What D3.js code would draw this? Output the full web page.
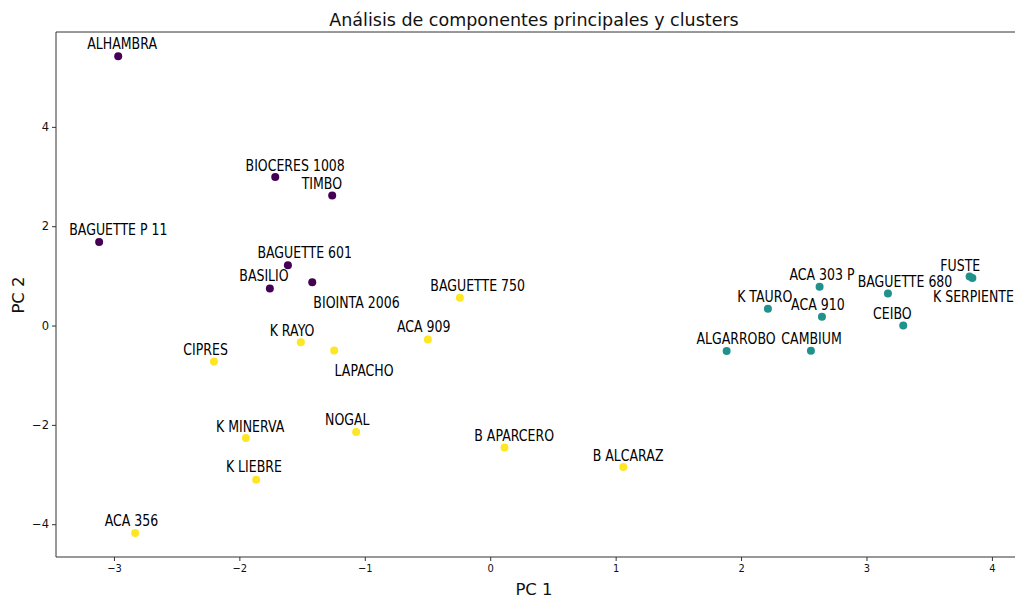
<!DOCTYPE html>
<html>
<head>
<meta charset="utf-8">
<script src="https://cdn.jsdelivr.net/npm/d3@7"></script>
<style>
  body { margin: 0; background: #fff; }
  text { font-family: "DejaVu Sans", sans-serif; fill: #111; }
</style>
</head>
<body>
<svg id="pca-plot"></svg>
<script>
// Data
const names = ["ALHAMBRA", "BIOCERES 1008", "TIMBO", "BAGUETTE P 11", "BAGUETTE 601", "BIOINTA 2006", "BASILIO",
    "BAGUETTE 750", "K RAYO", "LAPACHO", "ACA 909", "CIPRES", "K MINERVA", "NOGAL", "B APARCERO", "K LIEBRE", "ACA 356", "B ALCARAZ",
    "ALGARROBO", "CAMBIUM", "CEIBO", "ACA 910", "K TAURO", "ACA 303 P", "BAGUETTE 680", "FUSTE", "K SERPIENTE"];
const pc1 = [-2.966, -1.714, -1.26, -3.118, -1.613, -1.419, -1.757,
    -0.242, -1.51, -1.244, -0.497, -2.203, -1.948, -1.069, 0.114, -1.866, -2.831, 1.061,
    1.885, 2.557, 3.293, 2.645, 2.214, 2.626, 3.171, 3.822, 3.844];
const pc2 = [5.42, 2.99, 2.62, 1.684, 1.215, 0.873, 0.745,
    0.56, -0.334, -0.503, -0.282, -0.724, -2.266, -2.145, -2.455, -3.105, -4.177, -2.85,
    -0.515, -0.509, 0.0, 0.175, 0.336, 0.779, 0.644, 0.986, 0.955];
const cluster = [0, 0, 0, 0, 0, 0, 0,
    2, 2, 2, 2, 2, 2, 2, 2, 2, 2, 2,
    1, 1, 1, 1, 1, 1, 1, 1, 1];
// label centres after text adjustment (data units)
const labelX = [-2.935, -1.555, -1.342, -2.965, -1.479, -1.066, -1.804,
    -0.1, -1.58, -1.006, -0.53, -2.269, -1.914, -1.139, 0.191, -1.884, -2.86, 1.099,
    1.96, 2.562, 3.206, 2.612, 2.189, 2.645, 3.307, 3.748, 3.853];
const labelY = [5.684, 3.24, 2.875, 1.942, 1.473, 0.467, 1.016,
    0.815, -0.083, -0.895, -0.016, -0.473, -2.014, -1.881, -2.199, -2.833, -3.926, -2.606,
    -0.252, -0.252, 0.252, 0.423, 0.598, 1.036, 0.903, 1.221, 0.594];
const clusterColors = ["#440154", "#21918c", "#fde725"];
const xTicks = [-3, -2, -1, 0, 1, 2, 3, 4];
const yTicks = [-4, -2, 0, 2, 4];

function createPcaPlot() {
    const fullWidth = 1015, fullHeight = 598;
    const margin = { top: 32, right: -2, bottom: 41, left: 56 };
    const width = fullWidth - margin.left - margin.right;
    const height = fullHeight - margin.top - margin.bottom;

    const root = d3.select("#pca-plot")
        .attr("width", fullWidth)
        .attr("height", fullHeight);

    const svg = root.append("g")
        .attr("transform", `translate(${margin.left},${margin.top})`);

    const x = d3.scaleLinear().domain([-3.462, 4.2]).range([0, width]);
    const y = d3.scaleLinear().domain([-4.66, 5.91]).range([height, 0]);

    const points = names.map((n, i) => ({
        name: n, x: pc1[i], y: pc2[i], c: cluster[i], lx: labelX[i], ly: labelY[i]
    }));

    // Axes
    const xAxis = svg.append("g")
        .attr("transform", `translate(0,${height})`)
        .call(d3.axisBottom(x).tickValues(xTicks).tickSize(4).tickPadding(3));
    xAxis.selectAll(".tick text")
        .style("font-size", "11px")
        .style("font-family", "'DejaVu Sans Condensed', 'DejaVu Sans', sans-serif");

    const yAxis = svg.append("g")
        .call(d3.axisLeft(y).tickValues(yTicks).tickSize(4).tickPadding(3));
    yAxis.selectAll("text").style("font-size", "11.5px");

    svg.selectAll(".domain").remove();
    svg.selectAll(".tick line").attr("stroke", "#333");

    // spines (left, top, bottom)
    svg.append("line").attr("x1", 0).attr("x2", 0).attr("y1", 0).attr("y2", height)
        .attr("stroke", "#333").attr("stroke-width", 1);
    svg.append("line").attr("x1", 0).attr("x2", width).attr("y1", 0).attr("y2", 0)
        .attr("stroke", "#333").attr("stroke-width", 1);
    svg.append("line").attr("x1", 0).attr("x2", width).attr("y1", height).attr("y2", height)
        .attr("stroke", "#333").attr("stroke-width", 1);

    // Points
    svg.append("g")
        .selectAll("circle")
        .data(points)
        .enter()
        .append("circle")
        .attr("cx", d => x(d.x))
        .attr("cy", d => y(d.y))
        .attr("r", 4)
        .attr("fill", d => clusterColors[d.c]);

    // Labels (narrow text)
    svg.append("g")
        .selectAll("text")
        .data(points)
        .enter()
        .append("text")
        .attr("transform", d => `translate(${x(d.lx)},${y(d.ly)}) scale(0.76,1)`)
        .attr("text-anchor", "middle")
        .attr("dy", "0.36em")
        .style("font-size", "16.5px")
        .style("fill", "#000")
        .text(d => d.name);

    // Title
    root.append("text")
        .attr("x", 534)
        .attr("y", 26)
        .attr("text-anchor", "middle")
        .style("font-size", "17.5px")
        .text("Análisis de componentes principales y clusters");

    // Axis labels
    root.append("text")
        .attr("x", 534)
        .attr("y", 595)
        .attr("text-anchor", "middle")
        .style("font-size", "16.5px")
        .text("PC 1");

    root.append("text")
        .attr("transform", "translate(24,295) rotate(-90)")
        .attr("text-anchor", "middle")
        .style("font-size", "16.5px")
        .text("PC 2");
}

document.addEventListener('DOMContentLoaded', function () {
    createPcaPlot();
});
</script>
</body>
</html>
